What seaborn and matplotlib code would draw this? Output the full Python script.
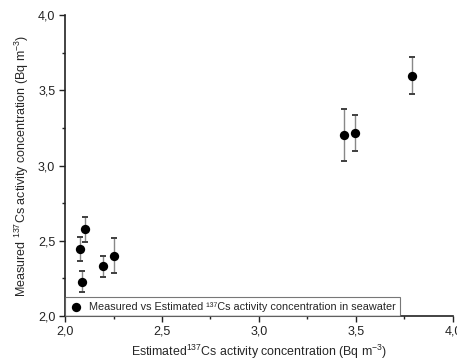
import matplotlib
matplotlib.use("Agg")
import matplotlib.pyplot as plt
import seaborn as sns
import pandas as pd
import numpy as np
from matplotlib.ticker import FuncFormatter, MultipleLocator

estimated = [2.077, 2.105, 2.089, 2.194, 2.251, 3.436, 3.497, 3.787]
measured = [2.445, 2.576, 2.228, 2.330, 2.400, 3.203, 3.216, 3.597]
uncert = [0.080, 0.085, 0.070, 0.070, 0.115, 0.175, 0.120, 0.123]

df = pd.DataFrame({"est": estimated, "meas": measured, "err": uncert})

sns.set_style("ticks")
plt.rcParams["font.family"] = ["Liberation Sans", "DejaVu Sans"]
plt.rcParams["mathtext.fontset"] = "custom"
plt.rcParams["mathtext.rm"] = "Liberation Sans"
plt.rcParams["mathtext.it"] = "Liberation Sans"

fig = plt.figure(figsize=(4.57, 3.62), dpi=100)
ax = fig.add_axes([65/457, 1-316/362, (453-65)/457, (316-15)/362])

ax.errorbar(df["est"], df["meas"], yerr=df["err"], fmt="none", ecolor="#888888",
            elinewidth=1.0, capsize=2.5, capthick=1.2, zorder=2)
ax.errorbar(df["est"], df["meas"], yerr=df["err"], fmt="none", ecolor="#333333",
            elinewidth=0, capsize=2.5, capthick=1.2, zorder=2)
sns.scatterplot(data=df, x="est", y="meas", ax=ax, color="black", s=45,
                edgecolor="black", linewidth=0, zorder=3,
                label="Measured vs Estimated \u00b9\u00b3\u2077Cs activity concentration in seawater")

ax.set_xlim(2.0, 4.0)
ax.set_ylim(2.0, 4.0)
ax.xaxis.set_major_locator(MultipleLocator(0.5))
ax.yaxis.set_major_locator(MultipleLocator(0.5))
ax.xaxis.set_minor_locator(MultipleLocator(0.25))
ax.yaxis.set_minor_locator(MultipleLocator(0.25))
fmt = FuncFormatter(lambda v, p: f"{v:.1f}".replace(".", ","))
ax.xaxis.set_major_formatter(fmt)
ax.yaxis.set_major_formatter(fmt)
ax.tick_params(which="major", length=4, width=1.0, labelsize=9, colors="#222222", pad=3)
ax.tick_params(which="minor", length=2.5, width=1.0, colors="#222222")

for s in ["top", "right"]:
    ax.spines[s].set_visible(False)
for s in ["left", "bottom"]:
    ax.spines[s].set_linewidth(1.2)
    ax.spines[s].set_color("#222222")

ax.set_xlabel("Estimated$^{137}$Cs activity concentration (Bq m$^{-3}$)", fontsize=8.9, labelpad=4)
ax.set_ylabel("Measured $^{137}$Cs activity concentration (Bq m$^{-3}$)", fontsize=9.0, labelpad=5)

leg = ax.legend(loc="lower left", bbox_to_anchor=(0.0, 0.0), fontsize=7.8, frameon=True,
                fancybox=False, borderaxespad=0, handletextpad=0.5, borderpad=0.4,
                handlelength=1.3, markerscale=1.0)
leg.get_frame().set_edgecolor("#555555")
leg.get_frame().set_linewidth(0.8)

fig.savefig("out.png", dpi=100)
